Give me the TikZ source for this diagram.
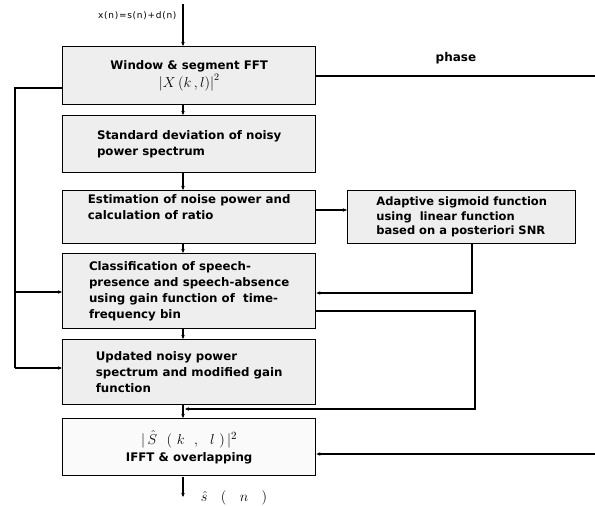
\documentclass[tikz,border=0pt]{standalone}
\usepackage{fontspec}
\setmainfont{DejaVu Sans}
\usetikzlibrary{arrows.meta}
\begin{document}
\begin{tikzpicture}[x=1pt,y=-1pt,
  box/.style={draw=black,line width=1.4pt,fill=gray!13,minimum width=253pt,inner sep=0pt,
    font=\fontsize{11.8}{16}\selectfont\bfseries,align=left,anchor=north west},
  conn/.style={line width=1.1pt,-{Stealth[length=4pt,width=3.5pt]}},
  line/.style={line width=1.1pt}]
\useasboundingbox (0,0) rectangle (595,506);
\node[box,minimum height=58pt,align=center] (b1) at (62,46) {Window \& segment FFT\\[2pt]\normalfont\fontsize{14}{16}\selectfont$\bigl|X\,(k\,,l)\bigr|^2$};
\node[box,minimum height=57pt] (b2) at (62,115) {Standard deviation of noisy\\power spectrum};
\node[box,minimum height=53pt] (b3) at (62,190) {Estimation of noise power and\\calculation of ratio\\[4pt]};
\node[box,minimum height=75pt] (b4) at (62,253) {Classification of speech-\\presence and speech-absence\\using gain function of\ \ time-\\frequency bin};
\node[box,minimum height=65pt] (b5) at (62,339) {Updated noisy power\\spectrum and modified gain\\function};
\node[box,minimum height=57pt,fill=gray!4,align=center] (b6) at (62,418) {\normalfont\fontsize{15}{17}\selectfont$|\,\hat{S}\ \ (\ k\ \ ,\ \ l\ )\,|^2$\\[1pt]\fontsize{11.8}{16}\selectfont\bfseries IFFT \& overlapping};
\node[box,minimum width=228pt,minimum height=53pt,font=\fontsize{11.5}{14.5}\selectfont\bfseries] (ad) at (347,190) {Adaptive sigmoid function\\using\ \ linear function\\based on a posteriori SNR};
\node[font=\fontsize{9}{11}\selectfont\addfontfeature{LetterSpace=8},anchor=east] (in) at (180,16) {x(n)=s(n)+d(n)};
\node[font=\fontsize{12}{14}\selectfont\bfseries] (ph) at (456,58) {phase};
\node[font=\fontsize{14}{16}\selectfont] (out) at (234,498) {$\hat{s}\ \ \ (\ \ \ n\ \ \ )$};
\coordinate (src) at (183,4);
\coordinate (ph1) at (595,76);
\coordinate (ph2) at (595,454);
\coordinate (dst) at (183,497);
% main chain
\draw[conn] (src) -- (183,46);
\draw[conn] (183,104) -- (183,115);
\draw[conn] (183,172) -- (183,190);
\draw[conn] (183,243) -- (183,253);
\draw[conn] (183,328) -- (183,339);
\draw[conn] (183,404) -- (183,418);
\draw[conn] (183,477) -- (dst);
% phase
\draw[line] (b1.east |- ph1) -- (ph1);
\draw[conn] (ph2) -- (b6.east |- ph2);
% left feedback
\draw[line] (b1.west |- 0,88) -- (15,88) -- (15,368);
\draw[conn] (15,292) -- (b4.west |- 0,292);
\draw[conn] (15,368) -- (b5.west |- 0,368);
% adaptive
\draw[conn] (b3.east |- 0,210) -- (ad.west |- 0,210);
\draw[conn] (ad.south -| 472,0) -- (472,293) -- (b4.east |- 0,293);
% right loop
\draw[conn] (b4.east |- 0,311) -- (475,311) -- (475,409) -- (185,409);
\end{tikzpicture}
\end{document}
